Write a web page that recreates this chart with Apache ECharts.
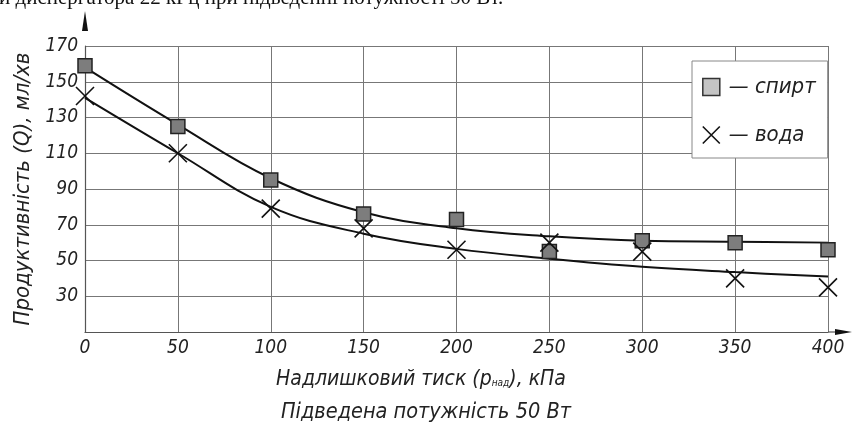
<!DOCTYPE html>
<html>
<head>
<meta charset="utf-8">
<script src="https://cdn.jsdelivr.net/npm/echarts@6/dist/echarts.min.js"></script>
<style>
html,body{margin:0;padding:0;background:#fff;}
#chart{width:852px;height:433px;}
</style>
</head>
<body>
<div id="chart"></div>
<script>
// тиск, кПа
var pressure = [0, 50, 100, 150, 200, 250, 300, 350, 400];
// експериментальні точки
var spirt = [159, 125, 95, 76, 73, 55, 61, 60, 56];
var voda = [142, 110, 79, 68, 56, 60, 55, 40, 35];
// апроксимуючі криві
var spirtFit = [158, 126, 96, 77, 68, 63.5, 61, 60.5, 60];
var vodaFit = [141, 110, 80, 65, 56.5, 51, 46.5, 43.5, 41];
var yTicks = [30, 50, 70, 90, 110, 130, 150, 170];

var font = "'DejaVu Sans Condensed', 'Liberation Sans Narrow', 'Roboto Condensed', sans-serif";
var crossPath = 'path://M0,0L10,10M10,0L0,10';

function pairs(xs, ys) {
    return xs.map(function (x, i) { return [x, ys[i]]; });
}

var chart = echarts.init(document.getElementById('chart'));
var option = {
    animation: false,
    title: [
        {
            text: 'и диспергатора 22 кГц при підведенні потужності 50 Вт.',
            left: -1, top: -12, padding: 0,
            textStyle: {fontFamily: 'Liberation Serif', fontSize: 21, fontWeight: 'normal', color: '#111'}
        },
        {
            text: '{a|Надлишковий тиск (p}{s|над}{a|), кПа}',
            left: 421, top: 369, textAlign: 'center', padding: 0,
            textStyle: {
                fontWeight: 'normal',
                rich: {
                    a: {fontFamily: font, fontStyle: 'italic', fontWeight: 'normal', fontSize: 21, color: '#222'},
                    s: {fontFamily: font, fontStyle: 'italic', fontWeight: 'normal', fontSize: 10, color: '#222', padding: [8, 0, 0, 0]}
                }
            }
        },
        {
            text: 'Підведена потужність 50 Вт',
            left: 426, top: 401, textAlign: 'center', padding: 0,
            textStyle: {fontFamily: font, fontStyle: 'italic', fontSize: 21.5, fontWeight: 'normal', color: '#222'}
        }
    ],
    legend: {
        orient: 'vertical',
        left: 692, top: 61,
        padding: [15, 12, 12, 10],
        itemWidth: 17, itemHeight: 17, itemGap: 26,
        backgroundColor: '#fff',
        borderColor: '#888', borderWidth: 1,
        formatter: function (n) { return '— ' + n; },
        textStyle: {fontFamily: font, fontStyle: 'italic', fontSize: 22, color: '#222', padding: [0, 0, 0, 4]},
        data: [
            {name: 'спирт', icon: 'rect', itemStyle: {color: '#c4c4c4', borderColor: '#333', borderWidth: 1.5}},
            {name: 'вода', icon: crossPath, itemStyle: {color: 'transparent', borderColor: '#111', borderWidth: 1.6}}
        ]
    },
    grid: {left: 85, right: 24, top: 46, bottom: 101},
    xAxis: {
        type: 'value', min: 0, max: 400, interval: 50,
        axisLine: {lineStyle: {color: '#555', width: 1.2}},
        axisTick: {show: false},
        splitLine: {lineStyle: {color: '#777', width: 1}},
        axisLabel: {fontFamily: font, fontStyle: 'italic', fontSize: 19, color: '#222', margin: 7}
    },
    yAxis: {
        type: 'value', min: 10, max: 170,
        name: 'Продуктивність (Q), мл/хв',
        nameLocation: 'middle', nameGap: 49,
        nameTextStyle: {fontFamily: font, fontStyle: 'italic', fontSize: 22, color: '#222'},
        axisLine: {show: true, lineStyle: {color: '#555', width: 1.2}},
        axisTick: {show: false, customValues: yTicks},
        splitLine: {lineStyle: {color: '#777', width: 1}},
        axisLabel: {customValues: yTicks, fontFamily: font, fontStyle: 'italic', fontSize: 19, color: '#222', margin: 7}
    },
    series: [
        {
            type: 'line', smooth: 0.4, showSymbol: false, silent: true,
            data: pairs(pressure, spirtFit),
            lineStyle: {color: '#111', width: 2}, z: 2
        },
        {
            type: 'line', smooth: 0.4, showSymbol: false, silent: true,
            data: pairs(pressure, vodaFit),
            lineStyle: {color: '#111', width: 2}, z: 2
        },
        {
            name: 'спирт', type: 'scatter', symbol: 'rect', symbolSize: 14,
            data: pairs(pressure, spirt),
            itemStyle: {color: '#7d7d7d', borderColor: '#222', borderWidth: 1.5, opacity: 1}, z: 3
        },
        {
            name: 'вода', type: 'scatter', symbol: crossPath, symbolSize: 18,
            data: pairs(pressure, voda),
            itemStyle: {color: 'transparent', borderColor: '#111', borderWidth: 1.6, opacity: 1}, z: 3
        }
    ]
};
chart.setOption(option);

// стрілки осей, що виходять за межі сітки
var o = chart.convertToPixel({gridIndex: 0}, [0, 10]);
var top = chart.convertToPixel({gridIndex: 0}, [0, 170]);
var right = chart.convertToPixel({gridIndex: 0}, [400, 10]);
chart.setOption({
    graphic: [
        {type: 'line', shape: {x1: o[0], y1: top[1], x2: o[0], y2: 28}, style: {stroke: '#555', lineWidth: 1.2}},
        {type: 'polygon', shape: {points: [[o[0], 11], [o[0] - 3, 31], [o[0] + 3, 31]]}, style: {fill: '#111'}},
        {type: 'line', shape: {x1: right[0], y1: o[1], x2: 838, y2: o[1]}, style: {stroke: '#555', lineWidth: 1.2}},
        {type: 'polygon', shape: {points: [[852, o[1]], [835, o[1] - 3], [835, o[1] + 3]]}, style: {fill: '#111'}}
    ]
});
</script>
</body>
</html>
